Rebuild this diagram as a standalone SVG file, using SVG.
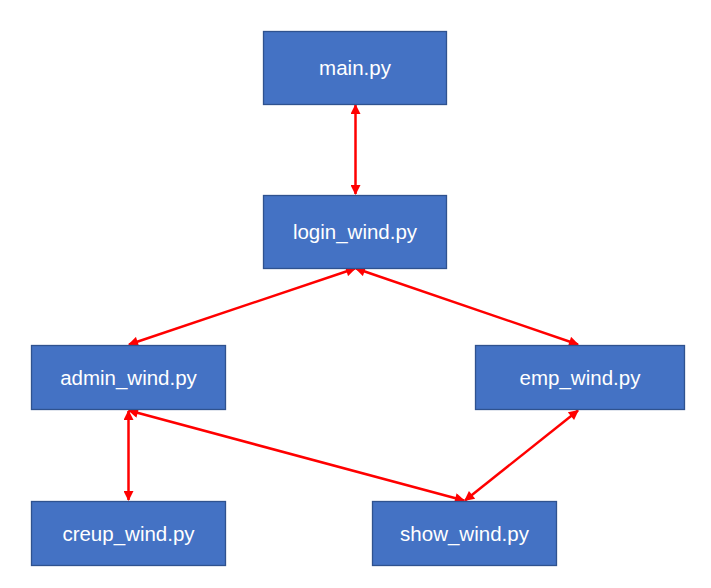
<svg xmlns="http://www.w3.org/2000/svg" width="711" height="588" viewBox="0 0 711 588">
<style>
.box{fill:#4472C4;stroke:#2F528F;stroke-width:1.3}
.lbl{fill:#FFFFFF;font-family:"Liberation Sans",Arial,sans-serif;font-size:20.5px;text-anchor:middle}
.con{stroke:#FF0000;stroke-width:2.5;fill:none;marker-start:url(#ah);marker-end:url(#ah)}
</style>
<defs>
<marker id="ah" viewBox="0 0 10 10" refX="9" refY="5" markerWidth="4.4" markerHeight="4" orient="auto-start-reverse" markerUnits="strokeWidth">
<path d="M0,0 L10,5 L0,10 z" fill="#FF0000"/>
</marker>
</defs>
<rect width="711" height="588" fill="#FFFFFF"/>
<g id="connectors">
<line class="con" x1="355.5" y1="105" x2="355.5" y2="194"/>
<line class="con" x1="355" y1="268.5" x2="129" y2="344.5"/>
<line class="con" x1="356" y1="268.5" x2="578" y2="344.5"/>
<line class="con" x1="128.5" y1="411" x2="128.5" y2="500"/>
<line class="con" x1="129" y1="410.5" x2="464" y2="500.5"/>
<line class="con" x1="578" y1="410.5" x2="465" y2="500.5"/>
</g>
<g id="main">
<rect class="box" x="263.5" y="31.5" width="183" height="73"/>
<text class="lbl" x="355" y="75">main.py</text>
</g>
<g id="login_wind">
<rect class="box" x="263.5" y="195.5" width="183" height="73"/>
<text class="lbl" x="355" y="239">login_wind.py</text>
</g>
<g id="admin_wind">
<rect class="box" x="31.5" y="345.5" width="194" height="64"/>
<text class="lbl" x="128.5" y="385">admin_wind.py</text>
</g>
<g id="emp_wind">
<rect class="box" x="475.5" y="345.5" width="209" height="64"/>
<text class="lbl" x="580" y="385">emp_wind.py</text>
</g>
<g id="creup_wind">
<rect class="box" x="31.5" y="501.5" width="194" height="64"/>
<text class="lbl" x="128.5" y="541">creup_wind.py</text>
</g>
<g id="show_wind">
<rect class="box" x="372.5" y="501.5" width="184" height="64"/>
<text class="lbl" x="464.5" y="541">show_wind.py</text>
</g>
</svg>
